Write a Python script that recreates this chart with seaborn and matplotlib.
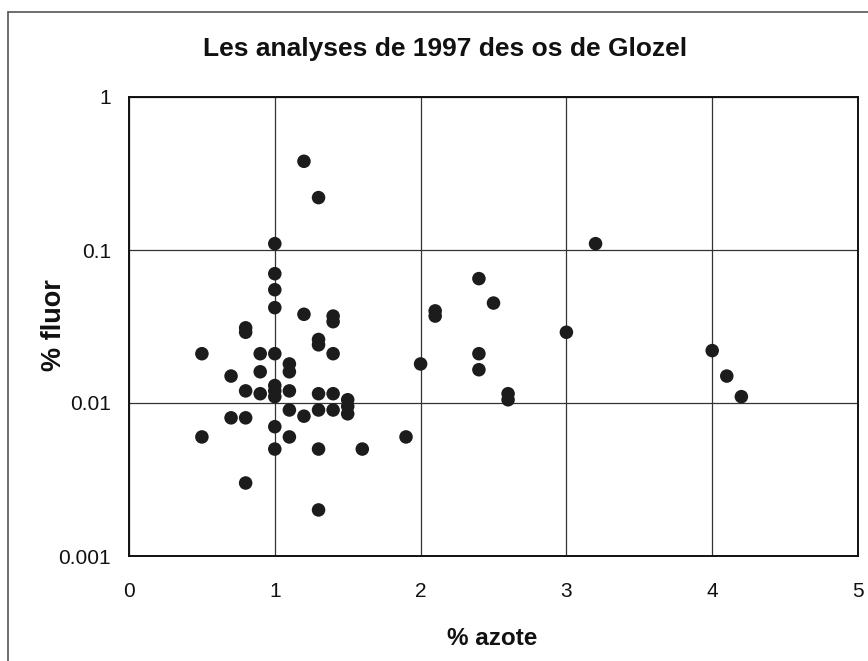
import matplotlib
matplotlib.use("Agg")
import matplotlib.pyplot as plt
import seaborn as sns
import pandas as pd
from matplotlib.lines import Line2D

# Nitrogen (% azote) and fluorine (% fluor) contents of the bone samples
azote = [1.2, 1.3, 1.0, 1.0, 1.0, 1.0, 1.2, 1.4, 1.4, 0.8, 0.8, 1.3, 1.3,
         0.5, 0.9, 1.0, 1.4, 1.1, 1.1, 0.9, 0.7, 0.8, 0.9, 1.0, 1.0, 1.0,
         1.1, 1.3, 1.4, 1.5, 1.5, 1.5, 1.1, 1.2, 1.3, 1.4, 0.7, 0.8, 1.0,
         0.5, 1.1, 1.0, 1.3, 1.6, 0.8, 1.3, 1.9, 3.2, 2.4, 2.5, 2.1, 2.1,
         3.0, 4.0, 4.1, 4.2, 2.0, 2.4, 2.4, 2.6, 2.6]
fluor = [0.38, 0.22, 0.11, 0.07, 0.055, 0.042, 0.038, 0.037, 0.034, 0.031,
         0.029, 0.026, 0.024, 0.021, 0.021, 0.021, 0.021, 0.018, 0.016,
         0.016, 0.015, 0.012, 0.0115, 0.013, 0.012, 0.011, 0.012, 0.0115,
         0.0115, 0.0105, 0.0095, 0.0085, 0.009, 0.0082, 0.009, 0.009, 0.008,
         0.008, 0.007, 0.006, 0.006, 0.005, 0.005, 0.005, 0.003, 0.002,
         0.006, 0.11, 0.065, 0.045, 0.040, 0.037, 0.029, 0.022, 0.015,
         0.011, 0.018, 0.021, 0.0165, 0.0115, 0.0105]

x_ticks = [0, 1, 2, 3, 4, 5]
y_ticks = [0.001, 0.01, 0.1, 1]
y_tick_labels = ["0.001", "0.01", "0.1", "1"]

df = pd.DataFrame({"azote": azote, "fluor": fluor})

sns.set_theme(style="white")
plt.rcParams["font.family"] = ["Liberation Sans", "DejaVu Sans"]

fig = plt.figure(figsize=(8.68, 6.61), dpi=100)
ax = fig.add_axes([129 / 868, 1 - 556 / 661, (858 - 129) / 868, (556 - 97) / 661])

sns.scatterplot(data=df, x="azote", y="fluor", ax=ax, color="#1c1c1c",
                s=95, edgecolor="none", linewidth=0, zorder=3)

ax.set_yscale("log")
ax.set_xlim(0, 5)
ax.set_ylim(0.001, 1)
ax.set_xticks(x_ticks)
ax.set_xticklabels([str(t) for t in x_ticks])
ax.set_yticks(y_ticks)
ax.set_yticklabels(y_tick_labels)
ax.minorticks_off()
ax.tick_params(axis="x", length=0, pad=19, labelsize=15, colors="#111111")
ax.tick_params(axis="y", length=0, pad=13, labelsize=15, colors="#111111")

ax.grid(True, which="major", color="#333333", linewidth=0.9)
for sp in ax.spines.values():
    sp.set_color("#111111")
    sp.set_linewidth(1.4)

ax.set_xlabel("% azote", fontsize=17.5, fontweight="bold", color="#111111")
ax.set_ylabel("% fluor", fontsize=19.5, fontweight="bold", color="#111111")
ax.xaxis.set_label_coords(0.498, (556 - 627) / 459)
ax.yaxis.set_label_coords((67 - 129) / 729, 0.503)

fig.text(445 / 868, 1 - 56 / 661, "Les analyses de 1997 des os de Glozel",
         ha="center", va="baseline", fontsize=19, fontweight="bold", color="#111111")

# Outer chart border (left and top edges)
fig.add_artist(Line2D([8 / 868, 8 / 868], [0, 1 - 12 / 661], transform=fig.transFigure,
                      color="#555555", linewidth=1.2))
fig.add_artist(Line2D([8 / 868, 1], [1 - 12 / 661, 1 - 12 / 661], transform=fig.transFigure,
                      color="#555555", linewidth=1.2))

fig.savefig("out.png", dpi=100)
